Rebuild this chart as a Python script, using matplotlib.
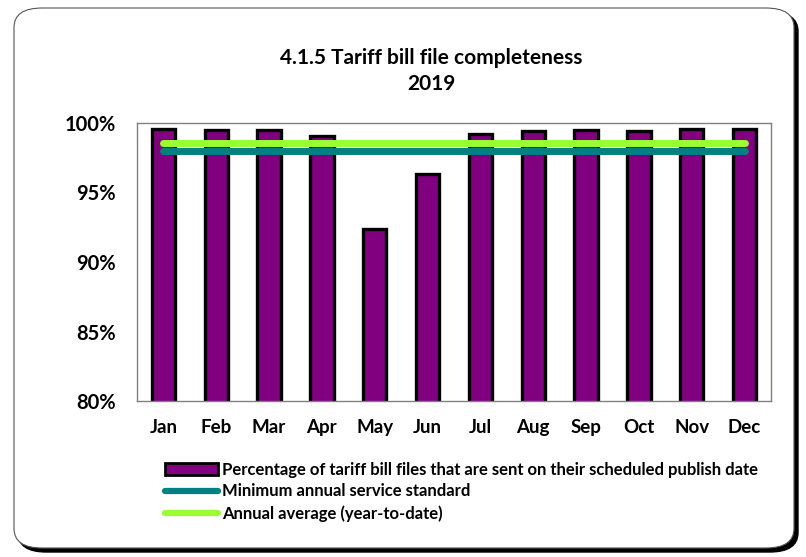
import numpy as np
import matplotlib.pyplot as plt
from matplotlib.patches import FancyBboxPatch
from matplotlib.lines import Line2D
from matplotlib.patches import Patch
from matplotlib.ticker import FuncFormatter


# =========================
# data
# =========================

months = ["Jan", "Feb", "Mar", "Apr", "May", "Jun",
          "Jul", "Aug", "Sep", "Oct", "Nov", "Dec"]

pct_on_time = [99.6, 99.5, 99.5, 99.05, 92.4, 96.3,
               99.2, 99.45, 99.5, 99.4, 99.55, 99.6]

min_standard = [98.0] * 12

annual_avg = [98.55] * 12

bar_label = "Percentage of tariff bill files that are sent on their scheduled publish date"
min_label = "Minimum annual service standard"
avg_label = "Annual average (year-to-date)"


plt.rcParams['font.family'] = ['Lato', 'DejaVu Sans']
plt.rcParams['font.weight'] = 'bold'

fig = plt.figure(figsize=(8.06, 5.57), dpi=100)


# rounded frame with shadow
shadow = FancyBboxPatch(
    (18 / 806, 5 / 557), 780 / 806, 540 / 557,
    boxstyle="round,pad=0,rounding_size=0.035",
    transform=fig.transFigure,
    facecolor="black", edgecolor="black",
    zorder=0
)
fig.patches.append(shadow)

frame = FancyBboxPatch(
    (14 / 806, 9 / 557), 780 / 806, 540 / 557,
    boxstyle="round,pad=0,rounding_size=0.035",
    transform=fig.transFigure,
    facecolor="white", edgecolor="#555555", linewidth=0.8,
    zorder=0.5
)
fig.patches.append(frame)


ax = fig.add_axes([137 / 806, 1 - 401 / 557, 634 / 806, 278 / 557])
ax.set_zorder(2)

x = np.arange(len(months))

ax.bar(
    x,
    pct_on_time,
    width=0.44,
    color="#800080",
    edgecolor="black",
    linewidth=2.4,
    zorder=2
)

ax.plot(x, annual_avg, color="#99ff33", linewidth=5,
        solid_capstyle="round", zorder=3)
ax.plot(x, min_standard, color="#008080", linewidth=5,
        solid_capstyle="round", zorder=3)

ax.set_xlim(-0.5, len(months) - 0.5)
ax.set_ylim(80, 100)
ax.set_yticks([80, 85, 90, 95, 100])
ax.yaxis.set_major_formatter(FuncFormatter(lambda v, p: "%d%%" % v))

ax.set_xticks(x)
ax.set_xticklabels(months)

ax.tick_params(axis="both", length=0)
ax.tick_params(axis="x", pad=13, labelsize=13.5)
ax.tick_params(axis="y", pad=15, labelsize=14.5)

for s in ax.spines.values():
    s.set_color("#808080")
    s.set_linewidth(1)

ax.set_facecolor("white")


# title
fig.text(431 / 806, 1 - 58 / 557, "4.1.5 Tariff bill file completeness",
         ha="center", va="center", fontsize=15)
fig.text(431 / 806, 1 - 84 / 557, "2019",
         ha="center", va="center", fontsize=15)


# legend
handles = [
    Patch(facecolor="#800080", edgecolor="black", linewidth=2),
    Line2D([0], [0], color="#008080", linewidth=4.5, solid_capstyle="round"),
    Line2D([0], [0], color="#99ff33", linewidth=4.5, solid_capstyle="round"),
]

leg = fig.legend(
    handles,
    [bar_label, min_label, avg_label],
    loc="upper left",
    bbox_to_anchor=(158 / 806, 1 - 455 / 557),
    frameon=False,
    fontsize=12,
    handlelength=3.2,
    handleheight=0.7,
    handletextpad=0.25,
    labelspacing=0.35,
    borderaxespad=0,
)
leg.set_zorder(3)


plt.savefig("out.png", dpi=100)
